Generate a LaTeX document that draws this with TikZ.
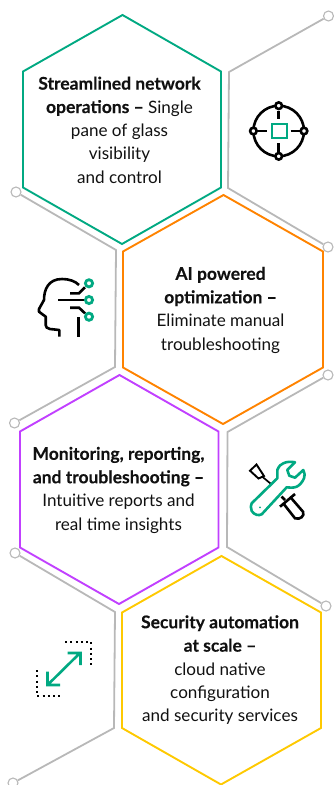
\documentclass[tikz,border=0pt]{standalone}
\usepackage{fontspec}
\setmainfont{Lato}[BoldFeatures={Scale=1.022,FakeBold=0.25}]
\tikzset{x=1pt,y=-1pt,
  hexg/.style={line width=1.9pt,line join=miter},
  grayline/.style={draw=lineg,line width=1.8pt},
  dotc/.style={circle,draw=lineg,fill=white,line width=1.1pt,minimum size=10pt,inner sep=0pt},
  label/.style={align=center,text=txt,font=\fontsize{17.1}{23.4}\selectfont,inner sep=0pt},
  iconb/.style={draw=black,line width=2.6pt},
  icong/.style={draw=hgreen,line width=2.6pt},
  dotted line/.style={draw=black,line width=2pt,dash pattern=on 2pt off 3.3pt}}
\definecolor{hgreen}{HTML}{01A982}
\definecolor{horange}{HTML}{FF8300}
\definecolor{hpurple}{HTML}{C140FF}
\definecolor{hyellow}{HTML}{FEC901}
\definecolor{lineg}{HTML}{B8B8B8}
\definecolor{txt}{HTML}{111111}
\begin{document}
\begin{tikzpicture}
\path[use as bounding box] (0,0) rectangle (333,785);
% gray brackets
\node[dotc] (c1a) at (328.5,16) {};
\node[dotc] (c1b) at (328,247) {};
\node[dotc] (c2a) at (16,192) {};
\node[dotc] (c2b) at (14.5,423) {};
\node[dotc] (c3a) at (328,375) {};
\node[dotc] (c3b) at (326,606) {};
\node[dotc] (c4a) at (15,553) {};
\node[dotc] (c4b) at (13,783) {};
\coordinate (k1a) at (229,72); \coordinate (k1b) at (228,188);
\coordinate (k2a) at (116,250); \coordinate (k2b) at (115,367);
\coordinate (k3a) at (227.5,432); \coordinate (k3b) at (227,547);
\coordinate (k4a) at (115,612); \coordinate (k4b) at (114,728);
\draw[grayline] (c1a) -- (k1a) -- (k1b) -- (c1b);
\draw[grayline] (c2a) -- (k2a) -- (k2b) -- (c2b);
\draw[grayline] (c3a) -- (k3a) -- (k3b) -- (c3b);
\draw[grayline] (c4a) -- (k4a) -- (k4b) -- (c4b);
% hexagons
\draw[hexg,hgreen] (122.5,15) -- (221,71.5) -- (221,187.5) -- (122,244) -- (23,187.5) -- (23,71.5) -- cycle;
\draw[hexg,horange] (223.5,195) -- (323,251.5) -- (323,367.5) -- (223,424) -- (123,367.5) -- (123,251.5) -- cycle;
\draw[hexg,hpurple] (119.5,375) -- (218.5,431.5) -- (218.5,547.5) -- (119,604) -- (20,547.5) -- (20,431.5) -- cycle;
\draw[hexg,hyellow] (221.5,556) -- (321,612.5) -- (321,728) -- (221,784.5) -- (122,728) -- (122,612.5) -- cycle;
% labels
\node[label] (t1) at (119.5,130) {\textbf{Streamlined network}\\\textbf{operations –} Single\\pane of glass\\visibility\\and control};
\node[label] (t2) at (220.5,310) {\textbf{AI powered}\\\textbf{optimization –}\\Eliminate manual\\troubleshooting};
\node[label] (t3) at (118.5,490) {\textbf{Monitoring, reporting,}\\\textbf{and troubleshooting –}\\Intuitive reports and\\real time insights};
\node[label] (t4) at (220,670) {\textbf{Security automation}\\\textbf{at scale –}\\cloud native\\configuration\\and security services};
% icon 1
\draw[iconb] (278.7,131) circle (25.3);
\draw[iconb] (278.7,110.7) -- (278.7,119.3) (278.7,143.3) -- (278.7,152.7) (258.3,131) -- (266.7,131) (290.7,131) -- (300,131);
\foreach \p in {(278.7,105.7),(278.7,156.3),(253.4,131),(304,131)} \draw[iconb,fill=white] \p circle (3.3);
\draw[icong,line width=2.3pt] (271.7,124) rectangle (286.7,138.3);
% icon 2
\draw[iconb,line join=round] (59.3,336.7) -- (59.3,330) -- (50,329) .. controls (47,328.5) and (45.7,327) .. (45.7,325) -- (45.7,316.7) -- (39,311.7) -- (39,309) -- (44,300) .. controls (44,290) and (48,279) .. (62,279) .. controls (69,279) and (75,281) .. (79,285);
\draw[iconb] (78.3,336.7) -- (78.3,316.7);
\draw[iconb] (70,293.3) -- (79,293.3) -- (85,287.3);
\draw[iconb] (58,300) -- (85,300);
\draw[iconb] (70,307.7) -- (79,307.7) -- (85,313.3);
\foreach \p in {(89,283.3),(89,300),(89,316.7)} \draw[icong,line width=2.8pt,fill=white] \p circle (3.6);
% icon 3
\draw[draw=black,line width=1.9pt] (250,470.7) -- (256.5,464.5) -- (264,476) -- (258.5,478.5) -- cycle;
\draw[draw=black,line width=1.7pt] (262,476.5) -- (272.3,485);
\draw[iconb] (281.5,496.5) -- (285,500);
\draw[iconb,fill=white] (290,496.7) -- (303,511.7) .. controls (305,516) and (300,520) .. (295,518.3) -- (284,504.3);
\draw[iconb] (280,506.7) -- (295,494);
\draw[icong,line join=round,fill=white] (277.3,478.3) -- (277.3,470) .. controls (279,466) and (281,464) .. (283.3,463.3) .. controls (287,461.5) and (291,461.5) .. (295,462.3) -- (287.3,470) -- (289.3,475.7) -- (295,477.7) -- (303.3,470) .. controls (305,473) and (305,476) .. (304,478.3) .. controls (302,483) and (299,485.5) .. (296.7,486.7) .. controls (293,488) and (290,487.8) .. (286.7,487.3) -- (261.7,514.3) .. controls (259,516) and (254,515) .. (251.7,511) .. controls (250.5,508) and (250.5,505) .. (251.7,503.3) -- cycle;
\fill[hgreen] (260,507.3) circle (1);
% icon 4
\draw[dotted line] (65,641.7) -- (91,641.7) -- (91,667.3);
\draw[dotted line] (36.7,670) -- (36.7,696) -- (62.3,696);
\draw[icong] (47.5,685) -- (80.5,652.5) (67.7,653) -- (80.5,653) -- (80.5,665) (47.5,671.7) -- (47.5,685) -- (60,685);
\end{tikzpicture}
\end{document}
